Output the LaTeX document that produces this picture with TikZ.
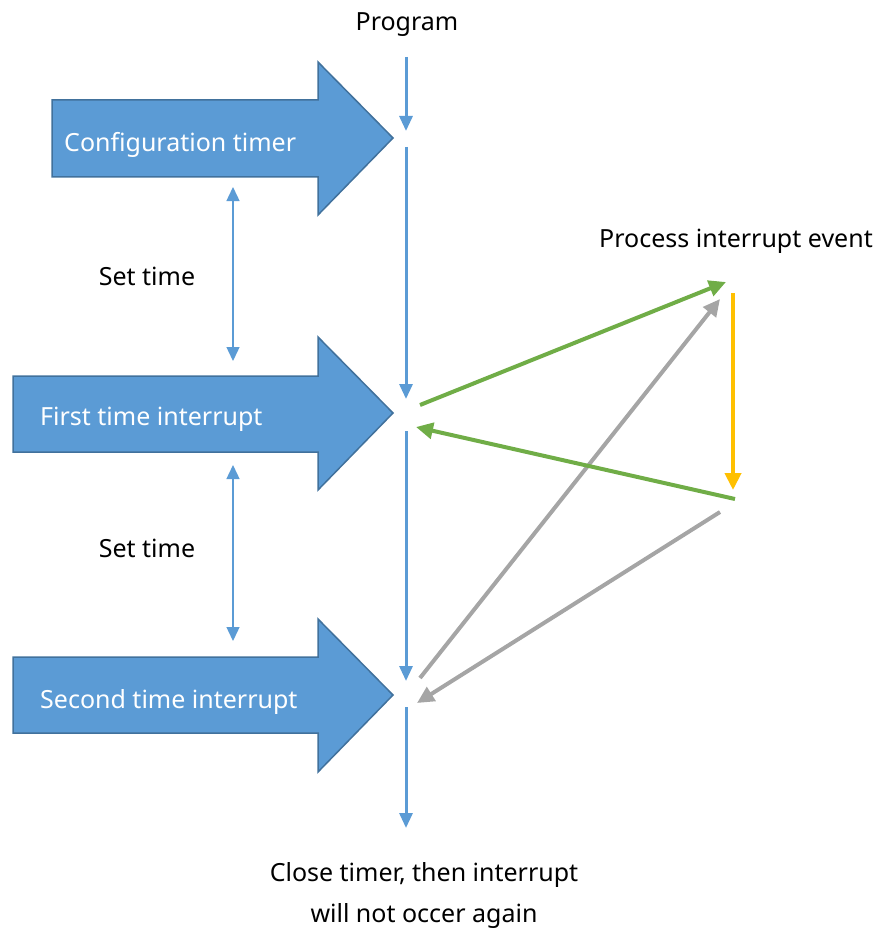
\documentclass[tikz,border=0pt]{standalone}
\usepackage{fontspec}
\setmainfont{Noto Sans}
\usetikzlibrary{arrows.meta}
\definecolor{bfill}{HTML}{5B9BD5}
\definecolor{bdraw}{HTML}{41719C}
\definecolor{gr}{HTML}{70AD47}
\definecolor{yl}{HTML}{FFC000}
\definecolor{gy}{HTML}{A5A5A5}
\tikzset{
  bigarrow/.style={fill=bfill,draw=bdraw,line width=1.5pt},
  lbl/.style={font=\fontsize{25}{30}\selectfont,inner sep=0pt},
  wlbl/.style={lbl,text=white,anchor=west},
  flow/.style={draw=bfill,line width=3pt,-{Triangle[length=15pt,width=13pt]}},
  dbl/.style={draw=bfill,line width=1.4pt,{Triangle[length=14pt,width=13pt]}-{Triangle[length=14pt,width=13pt]}},
  garrow/.style={draw=gr,line width=4pt,-{Triangle[length=17pt,width=16pt]}},
  yarrow/.style={draw=yl,line width=4pt,-{Triangle[length=17pt,width=16pt]}},
  gyarrow/.style={draw=gy,line width=4pt,-{Triangle[length=17pt,width=16pt]}},
}
\begin{document}
\begin{tikzpicture}[x=1pt,y=-1pt]
\useasboundingbox (0,0) rectangle (880,928);
% big arrows
\draw[bigarrow] (52,100) -- (318,100) -- (318,62) -- (393,138) -- (318,215) -- (318,177) -- (52,177) -- cycle;
\node[wlbl] (cfg) at (64,145) {Configuration timer};
\draw[bigarrow] (13,376) -- (318,376) -- (318,337) -- (393,413) -- (318,490) -- (318,452) -- (13,452) -- cycle;
\node[wlbl] (first) at (40,419) {First time interrupt};
\draw[bigarrow] (13,657) -- (318,657) -- (318,619) -- (393,695) -- (318,772) -- (318,733) -- (13,733) -- cycle;
\node[wlbl] (second) at (40,702) {Second time interrupt};
% labels
\node[lbl] (prog) at (407,25) {Program};
\node[lbl] (set1) at (147,276) {Set time};
\node[lbl] (set2) at (147,548) {Set time};
\node[lbl] (proc) at (736,241) {Process interrupt event};
\node[lbl,align=center] (close) at (424,895) {Close timer, then interrupt\\[11pt]will not occer again};
% coordinates
\coordinate (p0) at (406,57);
\coordinate (p1) at (406,131);
\coordinate (p2) at (406,147);
\coordinate (p3) at (406,399);
\coordinate (p4) at (406,431);
\coordinate (p5) at (406,681);
\coordinate (p6) at (406,707);
\coordinate (p7) at (406,828);
\coordinate (d1a) at (233,187);
\coordinate (d1b) at (233,361);
\coordinate (d2a) at (233,465);
\coordinate (d2b) at (233,641);
\coordinate (g1s) at (420,405);
\coordinate (g1e) at (726,282);
\coordinate (ys) at (733,293);
\coordinate (ye) at (733,490);
\coordinate (g2s) at (735,499);
\coordinate (g2e) at (416,427);
\coordinate (h1s) at (420,678);
\coordinate (h1e) at (720,299);
\coordinate (h2s) at (720,512);
\coordinate (h2e) at (417,703);
% program flow
\draw[flow] (p0) -- (p1);
\draw[flow] (p2) -- (p3);
\draw[flow] (p4) -- (p5);
\draw[flow] (p6) -- (p7);
% set time
\draw[dbl] (d1a) -- (d1b);
\draw[dbl] (d2a) -- (d2b);
% interrupt handling
\draw[gyarrow] (h1s) -- (h1e);
\draw[gyarrow] (h2s) -- (h2e);
\draw[garrow] (g1s) -- (g1e);
\draw[yarrow] (ys) -- (ye);
\draw[garrow] (g2s) -- (g2e);
\end{tikzpicture}
\end{document}
